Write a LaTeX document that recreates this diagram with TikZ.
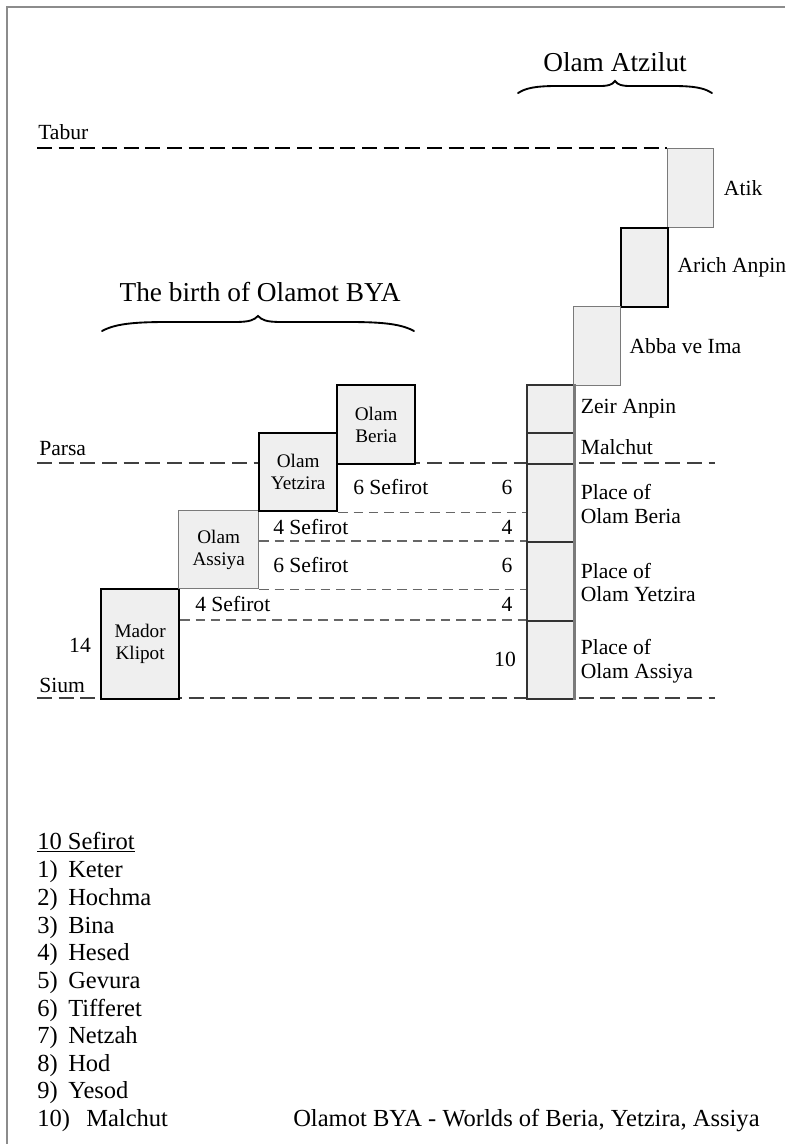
\documentclass[tikz,border=0pt]{standalone}
\usepackage{fontspec}
\setmainfont{Liberation Serif}
\usetikzlibrary{calc}
\definecolor{boxfill}{HTML}{EFEFEF}
\definecolor{thinline}{HTML}{7A7A7A}
\definecolor{frameline}{HTML}{8C8C8C}
\tikzset{
  thickbox/.style={draw=black, line width=1.7pt, fill=boxfill, inner sep=0pt},
  thinbox/.style={draw=thinline, line width=1pt, fill=boxfill, inner sep=0pt},
  midbox/.style={draw=black!80, line width=1.2pt, fill=boxfill, inner sep=0pt},
  boxtxt/.style={font=\fontsize{14.4}{16.5}\selectfont, align=center},
  lbl/.style={font=\fontsize{16.2}{17.5}\selectfont, inner sep=0pt, align=left},
  head/.style={font=\fontsize{20.5}{24}\selectfont, inner sep=0pt},
  listtxt/.style={font=\fontsize{18.4}{20}\selectfont, inner sep=0pt, anchor=west},
  bigdash/.style={dash pattern=on 11.25pt off 5pt, line width=2pt, black},
  middash/.style={dash pattern=on 11.25pt off 5pt, line width=1.6pt, black!75},
  smalldash/.style={dash pattern=on 7pt off 4.5pt, line width=1.1pt, black!60},
  bracestyle/.style={line width=1.4pt, line cap=round},
}
\begin{document}
\begin{tikzpicture}[x=0.75pt, y=-0.75pt]
\useasboundingbox (0,0) rectangle (785,1144);
% page frame
\draw[frameline, line width=2pt] (7,1144) -- (7,7) -- (785,7);

% named coordinates for line ends
\coordinate (taburL) at (37,148);
\coordinate (parsaL) at (37,463);
\coordinate (parsaR) at (715,463);
\coordinate (siumL) at (37,698);
\coordinate (siumR) at (715,698);

% dashed reference lines
\draw[bigdash] (taburL) -- (667,148);
\draw[middash] (parsaL) -- (parsaR);
\draw[middash] (siumL) -- (siumR);

% right column (Olam Atzilut)
\node[thinbox, anchor=north west, minimum width=46*0.75pt, minimum height=79*0.75pt] (atik) at (667,148) {};
\node[thickbox, anchor=north west, minimum width=47*0.75pt, minimum height=79*0.75pt] (arich) at (620,227) {};
\node[thinbox, anchor=north west, minimum width=47*0.75pt, minimum height=79*0.75pt] (abba) at (573,306) {};
\node[midbox, anchor=north west, minimum width=47*0.75pt, minimum height=48*0.75pt] (zeir) at (526,384) {};
\node[midbox, anchor=north west, minimum width=47*0.75pt, minimum height=31*0.75pt] (malchut) at (526,432) {};
\node[midbox, anchor=north west, minimum width=47*0.75pt, minimum height=78*0.75pt] (pberia) at (526,463) {};
\node[midbox, anchor=north west, minimum width=47*0.75pt, minimum height=79*0.75pt] (pyetzira) at (526,541) {};
\node[midbox, anchor=north west, minimum width=47*0.75pt, minimum height=78*0.75pt] (passiya) at (526,620) {};
\draw[thinline, line width=2pt] (zeir.north east) -- (passiya.south east);

% right labels
\node[lbl, anchor=west] (latik) at ([xshift=7pt]atik.east) {Atik};
\node[lbl, anchor=west] (larich) at ([xshift=6pt]arich.east) {Arich Anpin};
\node[lbl, anchor=west] (labba) at ([xshift=6pt]abba.east) {Abba ve Ima};
\node[lbl, anchor=west] (lzeir) at ([xshift=4.5pt]zeir.east) {Zeir Anpin};
\node[lbl, anchor=west] (lmalchut) at ([xshift=4.5pt, yshift=1pt]malchut.east) {Malchut};
\node[lbl, anchor=west] (lpberia) at ([xshift=4.5pt, yshift=-1pt]pberia.east) {Place of\\Olam Beria};
\node[lbl, anchor=west] (lpyetzira) at ([xshift=4.5pt, yshift=-1pt]pyetzira.east) {Place of\\Olam Yetzira};
\node[lbl, anchor=west] (lpassiya) at ([xshift=4.5pt, yshift=-1pt]passiya.east) {Place of\\Olam Assiya};

% left staircase
\node[thickbox, boxtxt, anchor=north west, minimum width=78*0.75pt, minimum height=110*0.75pt] (mador) at (100,588) {Mador\\Klipot};
\node[thinbox, boxtxt, anchor=north west, minimum width=80*0.75pt, minimum height=78*0.75pt] (assiya) at (178,510) {Olam\\Assiya};
\node[thickbox, boxtxt, anchor=north west, minimum width=78*0.75pt, minimum height=78*0.75pt] (yetzira) at (258,432) {Olam\\Yetzira};
\node[thickbox, boxtxt, anchor=north west, minimum width=78*0.75pt, minimum height=79*0.75pt] (beria) at (336,384) {Olam\\Beria};

% inner dashed lines
\draw[smalldash] (yetzira.south east) -- (yetzira.south east -| pberia.west);
\draw[smalldash] (assiya.east |- pyetzira.north) -- (pyetzira.north west);
\draw[smalldash] (assiya.south east) -- (assiya.south east -| pyetzira.west);
\draw[smalldash] (mador.east |- passiya.north) -- (passiya.north west);

% sefirot labels
\node[lbl, anchor=west] (s1) at (353,487) {6 Sefirot};
\node[lbl, anchor=west] (s2) at (273,527) {4 Sefirot};
\node[lbl, anchor=west] (s3) at (273,565) {6 Sefirot};
\node[lbl, anchor=west] (s4) at (195,604) {4 Sefirot};
\node[lbl] (n1) at (507,487) {6};
\node[lbl] (n2) at (507,527) {4};
\node[lbl] (n3) at (507,565) {6};
\node[lbl] (n4) at (507,604) {4};
\node[lbl] (n5) at (505,659) {10};
\node[lbl] (n14) at (80,645) {14};

% line labels
\node[lbl, anchor=west] (ltabur) at (38,132) {Tabur};
\node[lbl, anchor=west] (lparsa) at (39,449) {Parsa};
\node[lbl, anchor=west] (lsium) at (39,685) {Sium};

% headings with braces
\node[head] (hatz) at (615,62) {Olam Atzilut};
\draw[bracestyle] (518,93) .. controls (530,85) and (550,86) .. (575,86)
  -- (600,86) .. controls (608,86) and (612,85) .. (615,81)
  .. controls (618,85) and (622,86) .. (630,86) -- (655,86)
  .. controls (680,86) and (700,85) .. (712,93);
\node[head] (hbirth) at (260,292) {The birth of Olamot BYA};
\draw[bracestyle] (102,331) .. controls (120,321) and (150,322) .. (195,322)
  -- (235,322) .. controls (250,322) and (254,320) .. (258,316)
  .. controls (262,320) and (266,322) .. (281,322) -- (321,322)
  .. controls (366,322) and (396,321) .. (414,331);

% list of sefirot
\node[listtxt] (ltitle) at (37,842) {\underline{10 Sefirot}};
\foreach \i/\name in {1/Keter,2/Hochma,3/Bina,4/Hesed,5/Gevura,6/Tifferet,7/Netzah,8/Hod,9/Yesod}{
  \node[listtxt] (item\i) at (37,{872+27.6*(\i-1)}) {\makebox[23.25pt][l]{\i)}\name};
}
\node[listtxt] (item10) at (37,1120.4) {\makebox[36.75pt][l]{10)}Malchut};

% caption
\node[listtxt] (caption) at (293,1120.4) {Olamot BYA - Worlds of Beria, Yetzira, Assiya};
\end{tikzpicture}
\end{document}
